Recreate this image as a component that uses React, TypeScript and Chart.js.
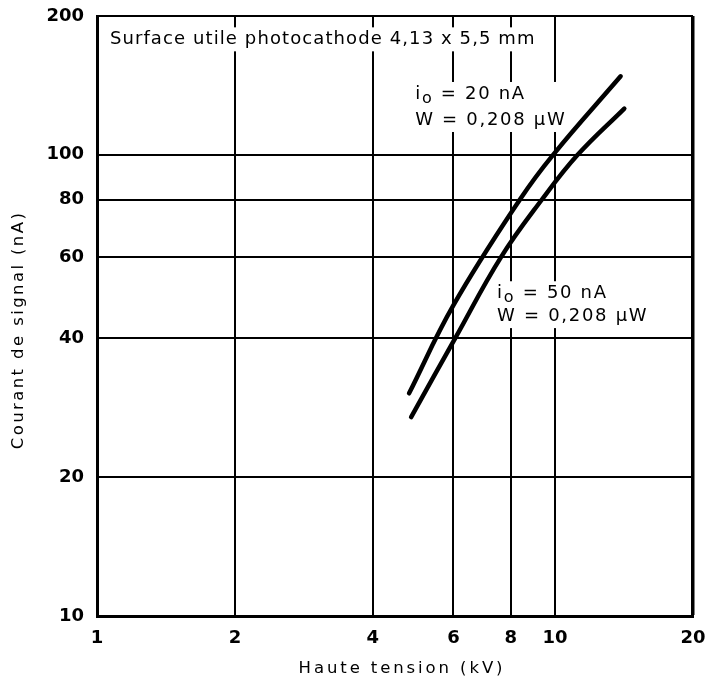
import React, { useEffect, useRef } from 'react';
import { Chart, registerables } from 'chart.js';

Chart.register(...registerables);

// ---- data ----
const hvTicks = [1, 2, 4, 6, 8, 10, 20];
const signalTicks = [10, 20, 40, 60, 80, 100, 200];

// io = 20 nA curve
const hvCurve20 = [4.8, 6.0, 8.38, 9.9, 13.9];
const signalCurve20 = [30.4, 47.2, 80, 100, 148];

// io = 50 nA curve
const hvCurve50 = [4.85, 6.05, 7.62, 9.36, 11.2, 14.16];
const signalCurve50 = [27, 40, 60, 80, 100, 126];

const xTitleText = 'Haute tension (kV)';
const yTitleText = 'Courant de signal (nA)';

type Seg = { t: string; sub?: boolean };
type Note = { x: number; ys: number[]; lines: Seg[][]; spacing: string };

// annotation anchors in data units (left edge of text, centre of each line)
const notes: Note[] = [
  {
    x: 1.067,
    ys: [178],
    spacing: '1.1px',
    lines: [[{ t: 'Surface utile photocathode 4,13 x 5,5 mm' }]],
  },
  {
    x: 4.95,
    ys: [135.5, 119],
    spacing: '1.7px',
    lines: [
      [{ t: 'i' }, { t: 'o', sub: true }, { t: ' = 20 nA' }],
      [{ t: 'W = 0,208 µW' }],
    ],
  },
  {
    x: 7.47,
    ys: [50.1, 44.7],
    spacing: '1.7px',
    lines: [
      [{ t: 'i' }, { t: 'o', sub: true }, { t: ' = 50 nA' }],
      [{ t: 'W = 0,208 µW' }],
    ],
  },
];

const FONT = '"DejaVu Sans", sans-serif';

const textPlugin = {
  id: 'textPlugin',
  beforeDraw(chart: any) {
    chart.ctx.letterSpacing = '0px';
  },
  beforeDatasetsDraw(chart: any) {
    const ctx = chart.ctx as CanvasRenderingContext2D;
    const xs = chart.scales.x;
    const ys = chart.scales.y;
    ctx.save();
    ctx.textBaseline = 'middle';
    ctx.textAlign = 'left';
    const mainFont = `18px ${FONT}`;
    const subFont = `16px ${FONT}`;
    for (const n of notes) {
      ctx.letterSpacing = n.spacing;
      const px = xs.getPixelForValue(n.x);
      const pys = n.ys.map((v) => ys.getPixelForValue(v));
      let maxW = 0;
      for (const line of n.lines) {
        let w = 0;
        for (const s of line) {
          ctx.font = s.sub ? subFont : mainFont;
          w += ctx.measureText(s.t).width;
        }
        maxW = Math.max(maxW, w);
      }
      const top = Math.min(...pys) - 12;
      const bottom = Math.max(...pys) + 12;
      ctx.fillStyle = '#fff';
      ctx.fillRect(px - 5, top, maxW + 8, bottom - top);
      ctx.fillStyle = '#000';
      n.lines.forEach((line, i) => {
        let cx = px;
        for (const s of line) {
          ctx.font = s.sub ? subFont : mainFont;
          ctx.fillText(s.t, cx, pys[i] + (s.sub ? 5 : 0));
          cx += ctx.measureText(s.t).width;
        }
      });
    }
    ctx.restore();
  },
  afterDraw(chart: any) {
    const ctx = chart.ctx as CanvasRenderingContext2D;
    const a = chart.chartArea;
    ctx.save();
    ctx.letterSpacing = '2.9px';
    ctx.fillStyle = '#000';
    ctx.font = `16.5px ${FONT}`;
    ctx.textAlign = 'center';
    ctx.textBaseline = 'middle';
    ctx.fillText(xTitleText, (a.left + a.right) / 2 + 7, a.bottom + 53);
    ctx.letterSpacing = '2.4px';
    ctx.translate(19, (a.top + a.bottom) / 2 + 14);
    ctx.rotate(-Math.PI / 2);
    ctx.fillText(yTitleText, 0, 0);
    ctx.restore();
  },
};

function noScalePadding(s: any) {
  s.paddingTop = 0;
  s.paddingBottom = 0;
  s.paddingLeft = 0;
  s.paddingRight = 0;
}

export default function App() {
  const ref = useRef<HTMLCanvasElement | null>(null);

  useEffect(() => {
    document.body.style.margin = '0';
    const canvas = ref.current;
    if (!canvas) return;
    const tickFont = { family: FONT, size: 18, weight: 'bold' };
    const curveStyle = {
      borderColor: '#000',
      borderWidth: 4.5,
      pointRadius: 0,
      fill: false,
      tension: 0.4,
      borderCapStyle: 'round',
    };
    const chart = new Chart(canvas, {
      type: 'line',
      data: {
        datasets: [
          {
            label: 'io = 20 nA',
            data: hvCurve20.map((x, i) => ({ x, y: signalCurve20[i] })),
            ...curveStyle,
          },
          {
            label: 'io = 50 nA',
            data: hvCurve50.map((x, i) => ({ x, y: signalCurve50[i] })),
            ...curveStyle,
          },
        ],
      },
      options: {
        responsive: false,
        animation: false,
        layout: { padding: { left: 0, top: 16, right: 18, bottom: 0 } },
        plugins: {
          legend: { display: false },
          tooltip: { enabled: false },
          title: { display: false },
        },
        scales: {
          x: {
            type: 'logarithmic',
            min: 1,
            max: 20,
            afterBuildTicks: (s: any) => {
              s.ticks = hvTicks.map((v) => ({ value: v }));
            },
            afterFit: (s: any) => {
              s.height = 70;
              noScalePadding(s);
            },
            ticks: {
              callback: (v: any) => String(v),
              autoSkip: false,
              maxRotation: 0,
              padding: 12,
              color: '#000',
              font: tickFont,
            },
            grid: {
              color: '#000',
              lineWidth: (c: any) => (c.tick && c.tick.value === 20 ? 3.5 : 2),
              drawTicks: false,
            },
            border: { color: '#000', width: 3 },
          },
          y: {
            type: 'logarithmic',
            min: 10,
            max: 200,
            afterBuildTicks: (s: any) => {
              s.ticks = signalTicks.map((v) => ({ value: v }));
            },
            afterFit: (s: any) => {
              s.width = 97;
              noScalePadding(s);
            },
            ticks: {
              callback: (v: any) => String(v),
              autoSkip: false,
              padding: 13,
              color: '#000',
              font: tickFont,
            },
            grid: {
              color: '#000',
              lineWidth: 2,
              drawTicks: false,
            },
            border: { color: '#000', width: 3 },
          },
        },
      } as any,
      plugins: [textPlugin],
    });
    return () => chart.destroy();
  }, []);

  return (
    <div style={{ width: 711, height: 686 }}>
      <canvas ref={ref} width={711} height={686} style={{ display: 'block' }} />
    </div>
  );
}
